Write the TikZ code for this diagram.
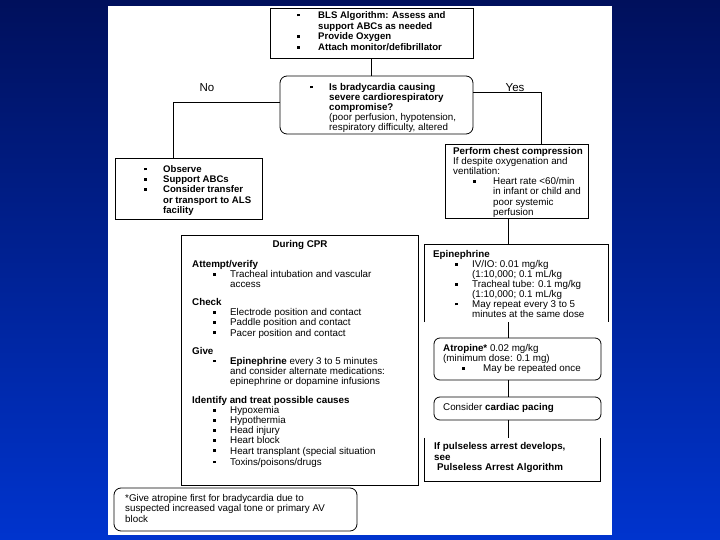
\documentclass[tikz,border=0pt]{standalone}
\usepackage{fontspec}
\setmainfont{Liberation Sans}
\usetikzlibrary{fit}
\definecolor{slidetop}{RGB}{0,16,92}
\definecolor{slidebot}{RGB}{0,52,206}
\newcommand{\sqb}{\rule[2pt]{2.6pt}{2.6pt}}
\newcommand{\hd}[1]{\multicolumn{3}{@{}l@{}}{#1}}

\begin{document}
\begin{tikzpicture}[x=1pt,y=-1pt,
    box/.style={draw, line width=0.8pt, inner sep=0pt},
    rbox/.style={box, rounded corners=7pt},
    frame/.style={inner sep=0pt},
    txt/.style={anchor=base west, inner sep=0pt, font=\fontsize{9.8}{10}\selectfont},
    link/.style={line width=0.8pt}]
        \useasboundingbox (0,0) rectangle (720,540);
        \shade[top color=slidetop, bottom color=slidebot] (0,0) rectangle (720,540);
        \fill[white] (108,6) rectangle (612,535);
        % boxes
        \node[box, fit={(270,8) (473,58)}] (bls) {};
        \node[rbox, fit={(280,76) (473,134)}] (brady) {};
        \node[box, fit={(115,158) (262,219)}] (observe) {};
        \node[box, fit={(445,144) (588,218)}] (compress) {};
        \node[box, fit={(181,235) (418,485)}] (cpr) {};
        \node[frame, fit={(425,245) (608,322)}] (epi) {};
        \draw[link] (epi.south west) -- (epi.north west) -- (epi.north east) -- (epi.south east);
        \node[rbox, rounded corners=6pt, fit={(434,338) (601,380)}] (atro) {};
        \node[rbox, rounded corners=6pt, fit={(434,397) (601,420)}] (pacing) {};
        \node[frame, fit={(425,438) (600,481)}] (arrest) {};
        \draw[link] (arrest.north west) -- (arrest.south west) -- (arrest.south east) -- (arrest.north east);
        \node[rbox, fit={(114,488) (357,531)}] (note) {};
        % connectors
        \coordinate (nobend) at (173,102);
        \coordinate (yesbend) at (541,92);
        \coordinate (spine) at (508,0);
        \draw[link] (bls.south) -- (bls.south |- brady.north);
        \draw[link] (brady.west |- nobend) -- (nobend) -- (nobend |- observe.north);
        \draw[link] (brady.east |- yesbend) -- (yesbend) -- (yesbend |- compress.north);
        \foreach \a/\b in {compress/epi, epi/atro, atro/pacing, pacing/arrest}{
            \draw[link] (spine |- \a.south) -- (spine |- \b.north);
        }
        \node[font=\fontsize{11.5}{12}\selectfont] (nolab) at (207,88) {No};
        \node[font=\fontsize{11.5}{12}\selectfont] (yeslab) at (515,88) {Yes};
        % texts
        \node[txt, font=\fontsize{9.6}{10.7}\selectfont\bfseries] (blstext) at (297,18.5) {\begin{tabular}[t]{@{}p{21pt}@{}l@{}}
            \sqb & BLS Algorithm: Assess and\\
                 & support ABCs as needed\\
            \sqb & Provide Oxygen\\
            \sqb & Attach monitor/defibrillator
        \end{tabular}};
        \node[txt] (bradytext) at (310,90.5) {\begin{tabular}[t]{@{}p{19pt}@{}l@{}}
            \sqb & \textbf{Is bradycardia causing}\\
                 & \textbf{severe cardiorespiratory}\\
                 & \textbf{compromise?}\\
                 & (poor perfusion, hypotension,\\
                 & respiratory difficulty, altered
        \end{tabular}};
        \node[txt, font=\fontsize{9.6}{10.2}\selectfont\bfseries] (observetext) at (144,172.5) {\begin{tabular}[t]{@{}p{19pt}@{}l@{}}
            \sqb & Observe\\
            \sqb & Support ABCs\\
            \sqb & Consider transfer\\
                 & or transport to ALS\\
                 & facility
        \end{tabular}};
        \node[txt] (compresstext) at (453,154.5) {\begin{tabular}[t]{@{}p{20pt}@{}p{20pt}@{}l@{}}
            \hd{\textbf{Perform chest compression}}\\
            \hd{If despite oxygenation and}\\
            \hd{ventilation:}\\
              & \sqb & Heart rate <60/min\\
              &      & in infant or child and\\
              &      & poor systemic\\
              &      & perfusion
        \end{tabular}};
        \node[txt, anchor=base, font=\fontsize{9.8}{10}\selectfont\bfseries] (cprhead) at (300,247.5) {During CPR};
        \node[txt] (cprtext) at (192,267.5) {\begin{tabular}[t]{@{}p{21pt}@{}p{17pt}@{}l@{}}
            \hd{\textbf{Attempt/verify}}\\
              & \sqb & Tracheal intubation and vascular\\
              &      & access\\[8pt]
            \hd{\textbf{Check}}\\
              & \sqb & Electrode position and contact\\
              & \sqb & Paddle position and contact\\
              & \sqb & Pacer position and contact\\[8pt]
            \hd{\textbf{Give}}\\
              & \sqb & \textbf{Epinephrine} every 3 to 5 minutes\\
              &      & and consider alternate medications:\\
              &      & epinephrine or dopamine infusions\\[9pt]
            \hd{\textbf{Identify and treat possible causes}}\\
              & \sqb & Hypoxemia\\
              & \sqb & Hypothermia\\
              & \sqb & Head injury\\
              & \sqb & Heart block\\
              & \sqb & Heart transplant (special situation\\[1pt]
              & \sqb & Toxins/poisons/drugs
        \end{tabular}};
        \node[txt, font=\fontsize{9.8}{9.7}\selectfont] (epitext) at (433,257.5) {\begin{tabular}[t]{@{}p{22pt}@{}p{17pt}@{}l@{}}
            \hd{\textbf{Epinephrine}}\\
              & \sqb & IV/IO: 0.01 mg/kg\\
              &      & (1:10,000; 0.1 mL/kg\\
              & \sqb & Tracheal tube: 0.1 mg/kg\\
              &      & (1:10,000; 0.1 mL/kg\\
              & \sqb & May repeat every 3 to 5\\
              &      & minutes at the same dose
        \end{tabular}};
        \node[txt] (atrotext) at (443,351.5) {\begin{tabular}[t]{@{}p{19pt}@{}p{21pt}@{}l@{}}
            \hd{\textbf{Atropine*} 0.02 mg/kg}\\
            \hd{(minimum dose: 0.1 mg)}\\
              & \sqb & May be repeated once
        \end{tabular}};
        \node[txt] (pacingtext) at (443,410.5) {Consider \textbf{cardiac pacing}};
        \node[txt, font=\fontsize{9.8}{10.5}\selectfont\bfseries] (arresttext) at (434,449.5) {\begin{tabular}[t]{@{}l@{}}
            If pulseless arrest develops,\\
            see\\
            \hspace*{3pt}Pulseless Arrest Algorithm
        \end{tabular}};
        \node[txt, font=\fontsize{9.8}{10.5}\selectfont] (notetext) at (125,501) {\begin{tabular}[t]{@{}l@{}}
            *Give atropine first for bradycardia due to\\
            suspected increased vagal tone or primary AV\\
            block
        \end{tabular}};
    \end{tikzpicture}
\end{document}
